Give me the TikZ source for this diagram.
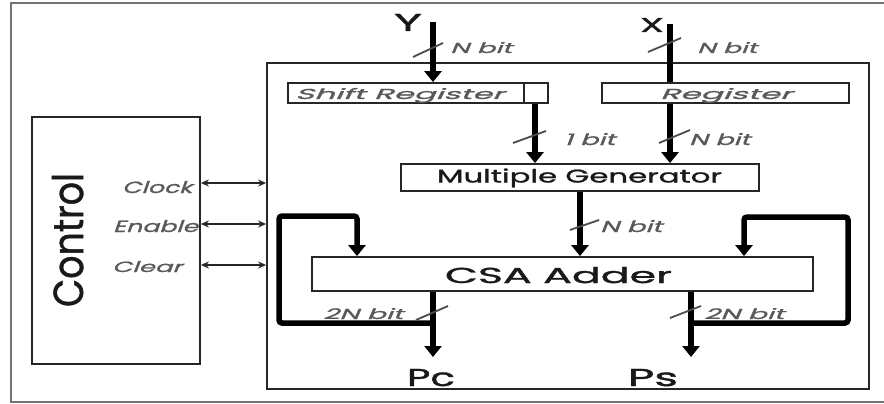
\documentclass[tikz,border=0pt]{standalone}
\usepackage{fontspec}
\setmainfont{Poppins}[FakeBold=1.2]
\newfontfamily\slf{Poppins}[FakeSlant=0.22,FakeBold=1]
\usetikzlibrary{arrows.meta}
\newcommand\lab[3]{\resizebox{#1pt}{#2pt}{#3}}
\tikzset{
  frame/.style={draw=black!55, line width=2.4pt},
  box/.style={draw=black!85, line width=1.8pt, inner sep=0pt},
  bus/.style={line width=5.5pt, black},
  bushead/.style={-{Triangle[length=11pt,width=17pt]}},
  slash/.style={line width=1.8pt, black!70},
  sig/.style={line width=1.6pt, black!85, {Stealth[length=8pt,width=7pt]}-{Stealth[length=8pt,width=7pt]}},
  lbl/.style={anchor=base, inner sep=0pt, text=black!90},
  ilbl/.style={anchor=base, inner sep=0pt, font=\slf, text=black!65},
}
\begin{document}
\begin{tikzpicture}[x=1pt,y=-1pt]
\useasboundingbox (0,0) rectangle (884,404);
\clip (0,0) rectangle (884,404);
\fill[white] (0,0) rectangle (884,404);
\draw[frame] (11,3) rectangle (905,402);

% boxes
\node[box, minimum width=602pt, minimum height=326pt] (core) at (568,226) {};
\node[box, minimum width=168pt, minimum height=247pt] (ctrl) at (116,240.5) {};
\node[box, minimum width=260pt, minimum height=20pt] (shift) at (418,93) {};
\node[box, minimum width=247pt, minimum height=20pt] (reg) at (725.5,93) {};
\node[box, minimum width=358pt, minimum height=27pt] (mg) at (580,177.5) {};
\node[box, minimum width=501pt, minimum height=34pt] (csa) at (562.5,274) {};
\coordinate (part) at (524,93);
\draw[box] (part |- shift.north) -- (part |- shift.south);

% box labels
\node[ilbl] (shiftlab) at (399.5,99) {\lab{209}{11}{Shift Register}};
\node[ilbl] (reglab) at (726,99) {\lab{132}{11}{Register}};
\node[lbl] (mglab) at (579.5,182.5) {\lab{285}{14}{Multiple Generator}};
\node[lbl] (csalab) at (558.5,283) {\lab{227}{16}{CSA Adder}};
\node[lbl, rotate=90] (ctrllab) at (83,240) {\lab{134}{31}{Control}};

% inputs and outputs labels
\node[lbl] (ylab) at (408,31) {\lab{28}{17}{Y}};
\node[lbl] (xlab) at (652,32) {\lab{24}{14}{X}};
\node[lbl] (pclab) at (431,386) {\lab{48}{17}{Pc}};
\node[lbl] (pslab) at (653,386) {\lab{50}{17}{Ps}};

% bit width labels
\node[ilbl] (b1) at (481,53) {\lab{62}{11}{N bit}};
\node[ilbl] (b2) at (727,53) {\lab{60}{11}{N bit}};
\node[ilbl] (b3) at (589.5,145) {\lab{51}{12}{1 bit}};
\node[ilbl] (b4) at (719.5,145) {\lab{61}{12}{N bit}};
\node[ilbl] (b5) at (631,232) {\lab{62}{12}{N bit}};
\node[ilbl] (b6) at (363,319) {\lab{80}{11}{2N bit}};
\node[ilbl] (b7) at (744,319) {\lab{80}{11}{2N bit}};

% control signal labels
\node[ilbl] (clklab) at (157,193) {\lab{70}{12}{Clock}};
\node[ilbl] (enlab) at (155.5,232) {\lab{85}{12}{Enable}};
\node[ilbl] (cllab) at (147,272) {\lab{70}{11}{Clear}};

% coordinates
\coordinate (yin) at (433,22);
\coordinate (xin) at (670,24);
\coordinate (sx) at (535,103);
\coordinate (pcx) at (433,357);
\coordinate (psx) at (691,357);
\coordinate (fl1) at (279,323);
\coordinate (fl2) at (279,216);
\coordinate (fl3) at (357,216);
\coordinate (fr1) at (848,323);
\coordinate (fr2) at (848,217);
\coordinate (fr3) at (744,217);
\coordinate (clk) at (200,183);
\coordinate (ena) at (200,224);
\coordinate (clr) at (200,265);

% buses
\draw[bus,bushead] (yin) -- (yin |- shift.north);
\draw[bus] (xin) -- (xin |- reg.north);
\draw[bus,bushead] (sx |- shift.south) -- (sx |- mg.north);
\draw[bus,bushead] (xin |- reg.south) -- (xin |- mg.north);
\draw[bus,bushead] (mg.south) -- (mg.south |- csa.north);
\draw[bus,bushead] (pcx |- csa.south) -- (pcx);
\draw[bus,bushead] (psx |- csa.south) -- (psx);
\draw[bus,bushead,rounded corners=3pt] (pcx |- fl1) -- (fl1) -- (fl2) -- (fl3) -- (fl3 |- csa.north);
\draw[bus,bushead,rounded corners=3pt] (psx |- fr1) -- (fr1) -- (fr2) -- (fr3) -- (fr3 |- csa.north);

% control signals
\draw[sig] (ctrl.east |- clk) -- (core.west |- clk);
\draw[sig] (ctrl.east |- ena) -- (core.west |- ena);
\draw[sig] (ctrl.east |- clr) -- (core.west |- clr);

% bus width slashes
\draw[slash] (413,57) -- (443,43);
\draw[slash] (648,52) -- (681,38);
\draw[slash] (513,143) -- (546,131);
\draw[slash] (659,143) -- (690,130);
\draw[slash] (570,230) -- (599,220);
\draw[slash] (416,320) -- (448,306);
\draw[slash] (670,318) -- (701,306);
\end{tikzpicture}
\end{document}
